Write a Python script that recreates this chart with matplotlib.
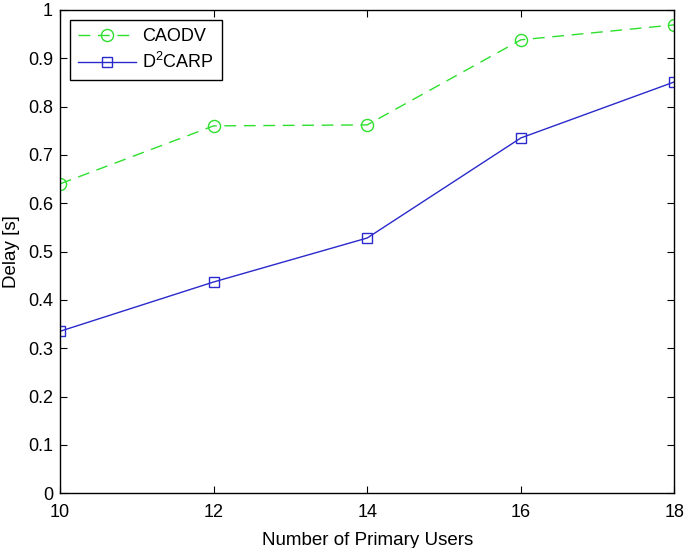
import matplotlib
matplotlib.use("Agg")
import matplotlib.pyplot as plt

plt.rcParams['font.family'] = ['Liberation Sans', 'DejaVu Sans']
plt.rcParams['mathtext.default'] = 'regular'

users = [10, 12, 14, 16, 18]
caodv = [0.640, 0.760, 0.762, 0.938, 0.969]
d2carp = [0.335, 0.437, 0.528, 0.735, 0.851]
xticks = [10, 12, 14, 16, 18]
yticks = [0, 0.1, 0.2, 0.3, 0.4, 0.5, 0.6, 0.7, 0.8, 0.9, 1]
ytick_labels = ['0', '0.1', '0.2', '0.3', '0.4', '0.5', '0.6', '0.7', '0.8', '0.9', '1']

fig = plt.figure(figsize=(6.85, 5.48), dpi=100)
ax = fig.add_axes([0.0876, 0.100, 0.897, 0.882])

green = '#2ee02e'
blue = '#2a2acc'
ax.plot(users, caodv, linestyle=(0, (8.5, 5.5)), color=green, linewidth=1.0,
        marker='o', markersize=8.7, markerfacecolor='none', markeredgecolor=green,
        markeredgewidth=1.0, label='CAODV')
ax.plot(users, d2carp, linestyle='-', color=blue, linewidth=1.0,
        marker='s', markersize=7, markerfacecolor='none', markeredgecolor=blue,
        markeredgewidth=1.0, label='D$^2$CARP')

ax.set_xlim(10, 18)
ax.set_ylim(0, 1)
ax.set_xticks(xticks)
ax.set_xticklabels([str(x) for x in xticks])
ax.set_yticks(yticks)
ax.set_yticklabels(ytick_labels)
ax.tick_params(axis='both', direction='in', top=True, right=True, length=5, width=0.8,
               labelsize=13)
ax.tick_params(axis='x', pad=8)
ax.tick_params(axis='y', pad=5)
for s in ax.spines.values():
    s.set_linewidth(1.0)

ax.set_xlabel('Number of Primary Users', fontsize=13.5, labelpad=8)
ax.set_ylabel('Delay [s]', fontsize=13.5, labelpad=6)

leg = ax.legend(loc='upper left', fontsize=13, frameon=True, fancybox=False,
                edgecolor='black', framealpha=1, borderpad=0.45, handlelength=3.2,
                labelspacing=0.4, borderaxespad=0.55, handletextpad=0.35)
leg.get_frame().set_linewidth(1.0)

fig.savefig('out.png', dpi=100)
